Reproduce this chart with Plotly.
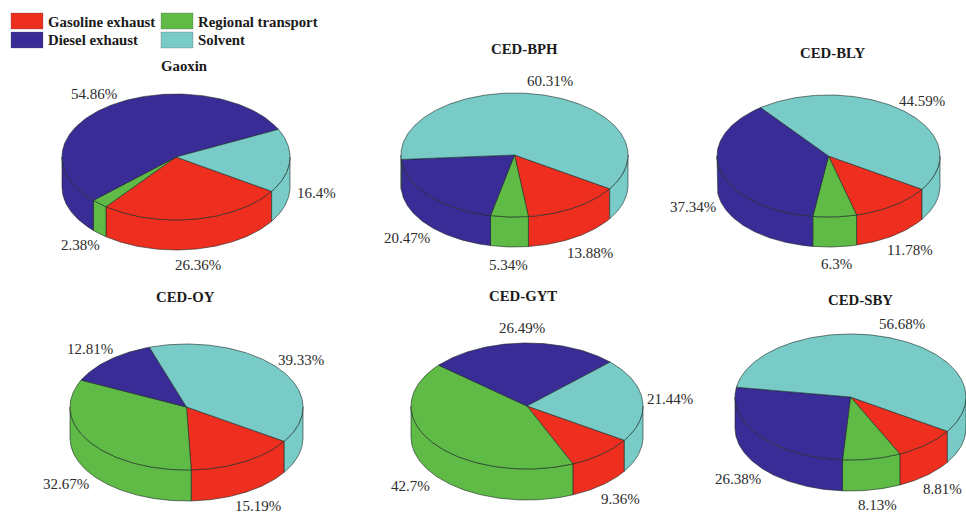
import numpy as np
import plotly.graph_objects as go

sources = ["Gasoline exhaust", "Regional transport", "Diesel exhaust", "Solvent"]
colors = ["#EE2E1E", "#5FBB46", "#3A2C96", "#79CBC8"]

sites = ["Gaoxin", "CED-BPH", "CED-BLY", "CED-OY", "CED-GYT", "CED-SBY"]
gasoline = [26.36, 13.88, 11.78, 15.19, 9.36, 8.81]
regional = [2.38, 5.34, 6.3, 32.67, 42.7, 8.13]
diesel = [54.86, 20.47, 37.34, 12.81, 26.49, 26.38]
solvent = [16.4, 60.31, 44.59, 39.33, 21.44, 56.68]

# pie geometry in pixels: cx, cy, rx, ry, depth
geom = [
    (176, 157, 114, 63, 30),
    (514.5, 155, 113.5, 62, 30),
    (828.5, 156, 111.5, 61, 30),
    (186.5, 407, 116.5, 63, 31),
    (527, 406, 116, 63, 31),
    (850.5, 397, 115.5, 63, 31),
]
START = 33.0
title_pos = [(184, 66), (524, 49), (833, 53), (185, 297), (523, 296), (860, 300)]
# label centres in source order
label_pos = [
    [(198, 265), (80, 245), (94, 94), (316, 193)],
    [(590, 253), (508, 265), (407, 238), (550, 81)],
    [(910, 250), (836, 264), (693, 207), (922, 101)],
    [(258, 506), (66, 484), (90, 349), (301, 360)],
    [(620, 499), (410, 486), (522, 328), (670, 399)],
    [(942, 489), (877, 505), (738, 479), (902, 324)],
]
EDGE = "rgba(25,40,35,0.75)"
TEXT = "#2b2b2b"
FONT = "Liberation Serif"

fig = go.Figure()


def arc(g, a0, a1, dz=0):
    cx, cy, rx, ry, _ = g
    t = np.radians(np.linspace(a0, a1, max(2, int(abs(a1 - a0)) + 2)))
    return cx + rx * np.cos(t), cy + ry * np.sin(t) + dz


def poly(xs, ys, color, name):
    fig.add_trace(go.Scatter(
        x=xs, y=ys, mode="lines", fill="toself", fillcolor=color,
        line=dict(color=EDGE, width=0.8), hoverinfo="skip",
        showlegend=False, name=name))


annotations = []
for i, site in enumerate(sites):
    g = geom[i]
    vals = [gasoline[i], regional[i], diesel[i], solvent[i]]
    edges = START + np.cumsum([0] + vals) * 3.6
    # side walls (only the front half, angles 0..180 and 360..540)
    for j in range(4):
        for lo, hi in ((0, 180), (360, 540)):
            a0, a1 = max(edges[j], lo), min(edges[j + 1], hi)
            if a1 > a0:
                xt, yt = arc(g, a0, a1)
                xb, yb = arc(g, a1, a0, g[4])
                poly(list(xt) + list(xb) + [xt[0]], list(yt) + list(yb) + [yt[0]],
                     colors[j], f"{site} {sources[j]} side")
    # top face
    for j in range(4):
        xt, yt = arc(g, edges[j], edges[j + 1])
        poly([g[0]] + list(xt) + [g[0]], [g[1]] + list(yt) + [g[1]],
             colors[j], f"{site} {sources[j]}")
    annotations.append(dict(x=title_pos[i][0], y=title_pos[i][1], text=f"<b>{site}</b>",
                            showarrow=False, font=dict(family=FONT, size=14.8, color="#1a1a1a")))
    for j in range(4):
        annotations.append(dict(x=label_pos[i][j][0], y=label_pos[i][j][1], text=f"{vals[j]:g}%",
                                showarrow=False, font=dict(family=FONT, size=15, color=TEXT)))

# legend drawn as swatches and real text
leg_swatch = [(11, 13), (161, 13), (11, 32), (161, 32)]
leg_text = [(46, 22), (196, 22), (46, 40), (196, 40)]
leg_order = [0, 1, 2, 3]
shapes = []
for k, j in enumerate(leg_order):
    x0, y0 = leg_swatch[k]
    shapes.append(dict(type="rect", xref="x", yref="y", x0=x0, x1=x0 + 32, y0=y0, y1=y0 + 16,
                       fillcolor=colors[j], line=dict(color="rgba(90,90,90,0.5)", width=0.6)))
    annotations.append(dict(x=leg_text[k][0], y=leg_text[k][1], text=f"<b>{sources[j]}</b>",
                            xanchor="left", showarrow=False,
                            font=dict(family=FONT, size=14.8, color="#1a1a1a")))

fig.update_layout(
    width=966, height=513, autosize=False,
    margin=dict(l=0, r=0, t=0, b=0),
    paper_bgcolor="white", plot_bgcolor="white",
    xaxis=dict(range=[0, 966], visible=False, fixedrange=True),
    yaxis=dict(range=[513, 0], visible=False, fixedrange=True),
    annotations=annotations, shapes=shapes, showlegend=False,
)
fig.write_html("out.html", config={"displayModeBar": False},
               post_script="document.body.style.margin='0';document.documentElement.style.overflow='hidden';")
